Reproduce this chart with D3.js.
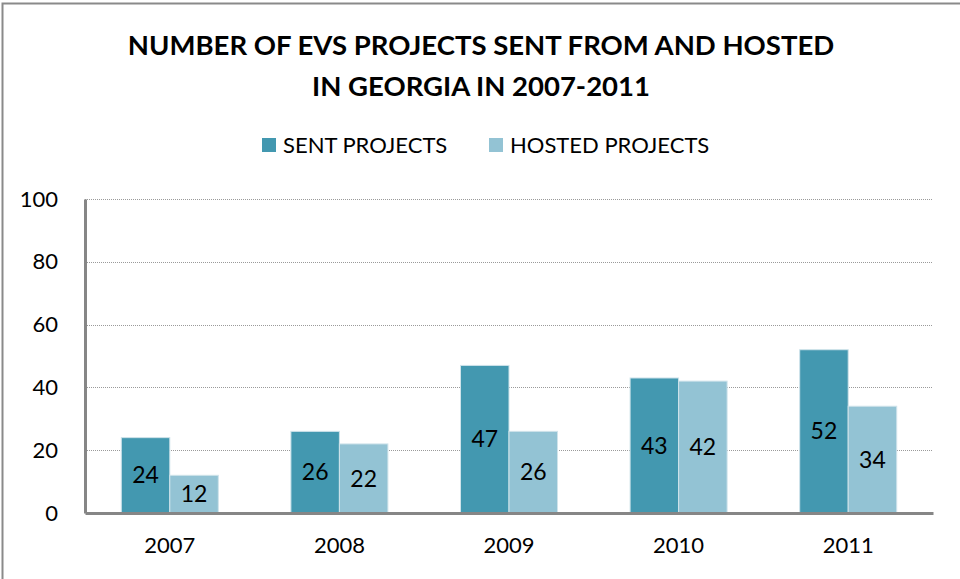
<!DOCTYPE html>
<html>
<head>
<meta charset="utf-8">
<script src="https://cdn.jsdelivr.net/npm/d3@7"></script>
<style>
  html, body { margin: 0; padding: 0; background: #fff; }
  svg { display: block; font-family: Lato, "Open Sans", sans-serif; }
</style>
</head>
<body>
<svg id="chart" width="960" height="579"></svg>
<script>
const categories = ["2007", "2008", "2009", "2010", "2011"];
const seriesNames = ["SENT PROJECTS", "HOSTED PROJECTS"];
const sentValues = [24, 26, 47, 43, 52];
const hostedValues = [12, 22, 26, 42, 34];
const yTicks = [0, 20, 40, 60, 80, 100];
const titleLines = ["NUMBER OF EVS PROJECTS SENT FROM AND HOSTED", "IN GEORGIA IN 2007-2011"];
const colors = ["#4398B0", "#93C3D4"];

const svg = d3.select("#chart");

// outer border (top + left visible)
svg.append("rect").attr("x", 2.5).attr("y", 3.5).attr("width", 1000).attr("height", 1000)
  .attr("fill", "none").attr("stroke", "#8a8a8a").attr("stroke-width", 2);

const plot = { left: 85, right: 933, top: 199, bottom: 513 };

const x = d3.scaleBand().domain(categories).range([plot.left, plot.right]).paddingInner(0.428).paddingOuter(0.214);
const xSub = d3.scaleBand().domain(seriesNames).range([0, x.bandwidth()]);
const y = d3.scaleLinear().domain([0, 100]).range([plot.bottom, plot.top]);

// title
svg.append("g").selectAll("text").data(titleLines).join("text")
  .attr("x", 481).attr("y", (d, i) => 55 + i * 41)
  .attr("text-anchor", "middle").attr("font-weight", "bold").attr("font-size", 27.5)
  .attr("fill", "#000").text(d => d);

// legend
const legendX = [262, 489];
const lg = svg.append("g").selectAll("g").data(seriesNames).join("g")
  .attr("transform", (d, i) => `translate(${legendX[i]},138)`);
lg.append("rect").attr("width", 14).attr("height", 14).attr("fill", (d, i) => colors[i]);
lg.append("text").attr("x", 21).attr("y", 15).attr("font-size", 22).attr("fill", "#000").text(d => d);

// gridlines
svg.append("g").selectAll("line").data(yTicks.filter(t => t > 0)).join("line")
  .attr("x1", plot.left).attr("x2", plot.right)
  .attr("y1", d => Math.round(y(d)) + 0.5).attr("y2", d => Math.round(y(d)) + 0.5)
  .attr("stroke", "#9a9a9a").attr("stroke-width", 1).attr("stroke-dasharray", "1,1");

// y axis
const yAxis = svg.append("g").attr("transform", `translate(${plot.left},0)`)
  .call(d3.axisLeft(y).tickValues(yTicks).tickSize(0).tickPadding(27));
yAxis.select(".domain").attr("stroke", "#868686").attr("stroke-width", 3);
yAxis.selectAll("text").attr("font-size", 22).attr("fill", "#000").attr("font-family", "Lato, sans-serif");

// bars
const data = categories.map((c, i) => ({ cat: c, values: [sentValues[i], hostedValues[i]] }));
const groups = svg.append("g").selectAll("g").data(data).join("g")
  .attr("transform", d => `translate(${x(d.cat)},0)`);
groups.selectAll("rect").data(d => d.values.map((v, j) => ({ v, s: seriesNames[j], j }))).join("rect")
  .attr("x", d => xSub(d.s)).attr("width", xSub.bandwidth())
  .attr("y", d => y(d.v)).attr("height", d => y(0) - y(d.v))
  .attr("fill", d => colors[d.j]).attr("stroke", "#cfe3ea").attr("stroke-width", 1);
groups.selectAll("text").data(d => d.values.map((v, j) => ({ v, s: seriesNames[j], j }))).join("text")
  .attr("x", d => xSub(d.s) + xSub.bandwidth() / 2)
  .attr("y", d => y(d.v / 2)).attr("dy", "0.35em")
  .attr("text-anchor", "middle").attr("font-size", 23).attr("fill", "#000").text(d => d.v);

// x axis
const xAxis = svg.append("g").attr("transform", `translate(0,${plot.bottom})`)
  .call(d3.axisBottom(x).tickSize(0).tickPadding(24));
xAxis.select(".domain").attr("stroke", "#868686").attr("stroke-width", 3);
xAxis.selectAll("text").attr("font-size", 22).attr("fill", "#000").attr("font-family", "Lato, sans-serif");
</script>
</body>
</html>
